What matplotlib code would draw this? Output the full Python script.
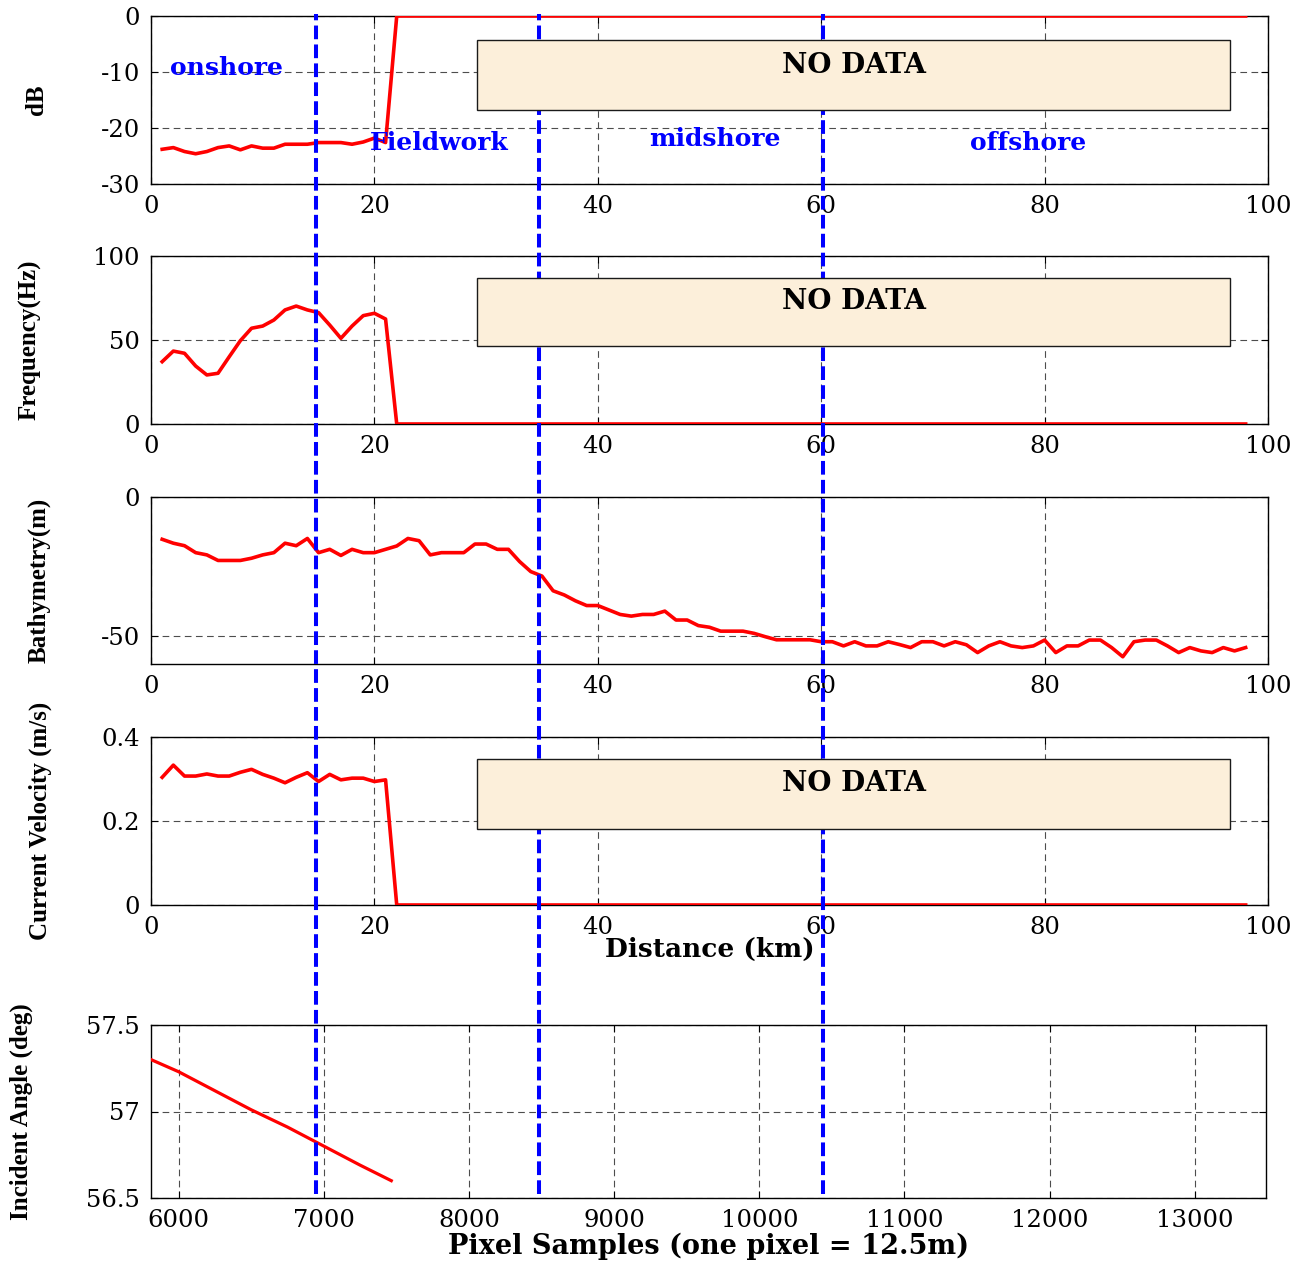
import matplotlib
matplotlib.use("Agg")
import matplotlib.pyplot as plt
from matplotlib.lines import Line2D
from matplotlib.patches import Rectangle
from matplotlib.transforms import blended_transform_factory

plt.rcParams["font.family"] = "DejaVu Serif"
plt.rcParams["axes.unicode_minus"] = False

# ---- data ----
# distance axis (km) for the field-measured stretch; beyond 22 km there is no data (flat 0)
km_field = [1, 2, 3, 4, 5, 6, 7, 8, 9, 10, 11, 12, 13, 14, 15, 16, 17, 18, 19, 20, 21, 22]
km_end = 98

db_field = [-23.8, -23.5, -24.2, -24.6, -24.2, -23.5, -23.2, -23.9, -23.2, -23.6, -23.6,
            -22.9, -22.9, -22.9, -22.6, -22.6, -22.6, -22.9, -22.5, -21.8, -22.6, 0.0]
freq_field = [37.1, 43.4, 42.1, 34.5, 29.2, 30.2, 40.0, 49.6, 57.0, 58.3, 61.9,
              67.9, 70.2, 67.9, 66.3, 58.9, 51.0, 58.3, 64.5, 65.9, 62.5, 0.0]
vel_field = [0.304, 0.333, 0.307, 0.307, 0.312, 0.307, 0.307, 0.316, 0.323, 0.311, 0.302,
             0.291, 0.304, 0.315, 0.294, 0.311, 0.298, 0.302, 0.302, 0.294, 0.298, 0.0]

km_bathy = list(range(1, 99))
bathy = [-15.2, -16.6, -17.5, -20.0, -20.8, -22.8, -22.8, -22.8, -22.0, -20.8,
         -20.0, -16.6, -17.5, -14.9, -20.0, -18.8, -21.0, -18.8, -20.0, -20.0,
         -18.8, -17.6, -14.9, -15.7, -20.8, -20.0, -20.0, -20.0, -16.9, -16.9,
         -18.8, -18.8, -23.2, -26.8, -28.4, -33.7, -35.2, -37.3, -39.0, -39.0,
         -40.6, -42.2, -42.8, -42.2, -42.2, -41.0, -44.2, -44.2, -46.2, -46.8,
         -48.2, -48.2, -48.2, -49.0, -50.2, -51.3, -51.3, -51.3, -51.3, -52.0,
         -52.0, -53.5, -52.0, -53.5, -53.5, -52.0, -53.0, -54.1, -52.0, -52.0,
         -53.5, -52.0, -53.1, -55.9, -53.5, -52.0, -53.5, -54.1, -53.5, -51.4,
         -55.9, -53.5, -53.5, -51.4, -51.4, -54.1, -57.4, -52.0, -51.4, -51.4,
         -53.5, -55.9, -54.1, -55.3, -55.9, -54.1, -55.3, -54.1]

pix = [5810, 6000, 6250, 6500, 6750, 7000, 7250, 7465]
inc_angle = [57.30, 57.23, 57.12, 57.01, 56.91, 56.80, 56.69, 56.60]

boundary_km = [14.8, 34.7, 60.2]
regions = ["onshore", "Fieldwork", "midshore", "offshore"]
region_x = [6.8, 25.8, 50.5, 78.5]
region_y = [-9.3, -22.7, -22.0, -22.7]

RED = "#FF0000"
BLUE = "#0000FF"
BOX = "#FCEFDA"

W, H = 1310, 1262
fig = plt.figure(figsize=(W / 100, H / 100), dpi=100)


def px_axes(left, top, right, bottom):
    return fig.add_axes([left / W, 1 - bottom / H, (right - left) / W, (bottom - top) / H],
                        facecolor="white")


def style(ax):
    ax.tick_params(direction="in", length=5, width=0.8, top=True, right=True,
                   labelsize=17.5, pad=8)
    ax.grid(True, color="0.3", linestyle=(0, (6, 4)), linewidth=0.8)
    for s in ax.spines.values():
        s.set_linewidth(1.0)


ax1 = px_axes(151, 16, 1268, 184)
ax2 = px_axes(151, 256, 1268, 424)
ax3 = px_axes(151, 497, 1268, 664)
ax4 = px_axes(151, 737, 1268, 905)
ax5 = px_axes(151, 1025, 1266, 1198)

lw = 2.6
ax1.plot(km_field + [km_end], db_field + [0.0], color=RED, lw=lw, zorder=3)
ax2.plot(km_field + [km_end], freq_field + [0.0], color=RED, lw=lw, zorder=3)
ax3.plot(km_bathy, bathy, color=RED, lw=lw, zorder=3)
ax4.plot(km_field + [km_end], vel_field + [0.0], color=RED, lw=lw, zorder=3)
ax5.plot(pix, inc_angle, color=RED, lw=2.3, zorder=3)

for ax in (ax1, ax2, ax3, ax4):
    ax.set_xlim(0, 100)
    ax.set_xticks([0, 20, 40, 60, 80, 100])
    style(ax)

ax1.set_ylim(-30, 0)
ax1.set_yticks([-30, -20, -10, 0])
ax2.set_ylim(0, 100)
ax2.set_yticks([0, 50, 100])
ax3.set_ylim(-60, 0)
ax3.set_yticks([-50, 0])
ax4.set_ylim(0, 0.4)
ax4.set_yticks([0, 0.2, 0.4])
ax4.set_yticklabels(["0", "0.2", "0.4"])

ax5.set_xlim(5810, 13490)
ax5.set_xticks(range(6000, 13001, 1000))
ax5.set_ylim(56.5, 57.5)
ax5.set_yticks([56.5, 57, 57.5])
ax5.set_yticklabels(["56.5", "57", "57.5"])
style(ax5)

ylab = dict(family="Liberation Serif", fontweight="bold", fontsize=18)
ax1.set_ylabel("dB", **ylab)
ax2.set_ylabel("Frequency(Hz)", **ylab)
ax3.set_ylabel("Bathymetry(m)", **ylab)
ax4.set_ylabel("Current Velocity (m/s)", **ylab)
ax5.set_ylabel("Incident Angle (deg)", **ylab)
ax1.yaxis.set_label_coords(-0.092, 0.5)
ax2.yaxis.set_label_coords(-0.098, 0.5)
ax3.yaxis.set_label_coords(-0.090, 0.5)
ax4.yaxis.set_label_coords(-0.089, 0.5)
ax5.yaxis.set_label_coords(-0.106, 0.5)

ax4.set_xlabel("Distance (km)", fontsize=19, fontweight="bold")
ax4.xaxis.set_label_coords(0.5, -0.19)
ax5.set_xlabel("Pixel Samples (one pixel = 12.5m)", fontsize=19.5, fontweight="bold")
ax5.xaxis.set_label_coords(0.5, -0.20)

for name, x, y in zip(regions, region_x, region_y):
    ax1.text(x, y, name, color=BLUE, fontsize=18, fontweight="bold",
             ha="center", va="center", zorder=4)

# boundary lines run through all panels, drawn at figure level
tr = blended_transform_factory(ax1.transData, fig.transFigure)
for km in boundary_km:
    fig.add_artist(Line2D([km, km], [1 - 1194 / H, 1 - 14 / H], transform=tr,
                          color=BLUE, lw=2.9, dashes=(3.4, 1.3), zorder=5))

# "NO DATA" boxes sit on top of the boundary lines
for ax, y0, y1, ty in ((ax1, -16.8, -4.3, -8.8), (ax2, 46.4, 86.9, 73.2),
                       (ax4, 0.181, 0.348, 0.290)):
    fig.add_artist(Rectangle((29.2, y0), 67.4, y1 - y0, transform=ax.transData,
                             facecolor=BOX, edgecolor="0.1", lw=1.0, zorder=6))
    fig.text(62.9, ty, "NO DATA", transform=ax.transData, ha="center", va="center",
             fontsize=20, fontweight="bold", zorder=7)

fig.savefig("out.png", dpi=100)
